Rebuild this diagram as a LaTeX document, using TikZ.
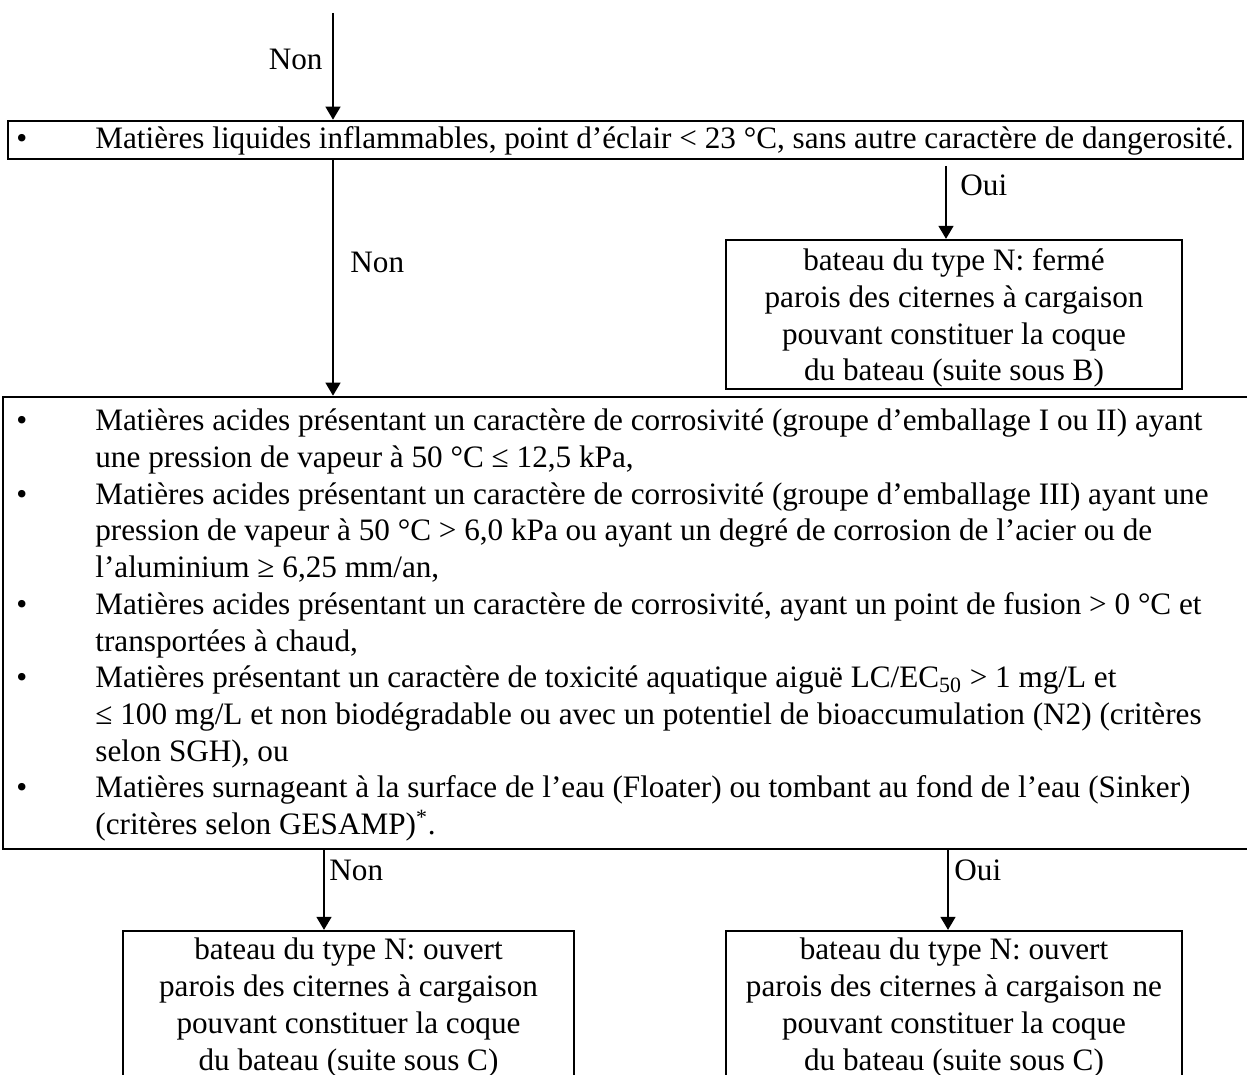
\documentclass[tikz,border=0pt]{standalone}
\usepackage{fontspec}
\setmainfont{Liberation Serif}
\usetikzlibrary{arrows.meta}
\newcommand\bodyfont{\fontsize{15.6pt}{18.35pt}\selectfont}
\newcommand\topstrut{\rule{0pt}{14.5pt}}
\tikzset{
  bigbox/.style={draw, line width=1.35pt, inner sep=0pt},
  smallbox/.style={draw, line width=1.15pt, align=center, inner sep=0pt, font=\bodyfont},
  arr/.style={line width=0.75pt, -{Triangle[length=6.5pt,width=7.5pt]}},
  lbl/.style={font=\bodyfont, inner sep=0pt},
  bodytext/.style={font=\bodyfont, inner sep=0pt}
}
\begin{document}
\begin{tikzpicture}[x=0.5pt, y=-0.5pt]
\useasboundingbox (0,0) rectangle (1247,1075);

% question 1
\node[bigbox, minimum width=617.5pt, minimum height=19pt] (q1) at (625.5,140) {};
\node[bodytext, anchor=base west] (q1text) at (16,149)
  {\makebox[39.5pt][l]{\textbullet}Matières liquides inflammables, point d’éclair < 23 °C, sans autre caractère de dangerosité.};

% question 2
\node[bigbox, minimum width=623.5pt, minimum height=226pt] (q2) at (626.5,623) {};
\node[bodytext, anchor=north west] (q2text) at (16,404.8) {%
\begin{tabular}{@{}p{39.5pt}@{}l@{}}
\textbullet & Matières acides présentant un caractère de corrosivité (groupe d’emballage I ou II) ayant\\
 & une pression de vapeur à 50 °C ≤ 12,5 kPa,\\
\textbullet & Matières acides présentant un caractère de corrosivité (groupe d’emballage III) ayant une\\
 & pression de vapeur à 50 °C > 6,0 kPa ou ayant un degré de corrosion de l’acier ou de\\
 & l’aluminium ≥ 6,25 mm/an,\\
\textbullet & Matières acides présentant un caractère de corrosivité, ayant un point de fusion > 0 °C et\\
 & transportées à chaud,\\
\textbullet & Matières présentant un caractère de toxicité aquatique aiguë LC/EC\textsubscript{50} > 1 mg/L et\\
 & ≤ 100 mg/L et non biodégradable ou avec un potentiel de bioaccumulation (N2) (critères\\
 & selon SGH), ou\\
\textbullet & Matières surnageant à la surface de l’eau (Floater) ou tombant au fond de l’eau (Sinker)\\
 & (critères selon GESAMP)\textsuperscript{*}.
\end{tabular}};

% result boxes
\node[smallbox, minimum width=228pt, minimum height=74.5pt] (r1) at (954,314.5)
  {\topstrut bateau du type N: fermé\\parois des citernes à cargaison\\pouvant constituer la coque\\du bateau (suite sous B)};
\node[smallbox, minimum width=225.5pt, minimum height=76.5pt] (r2) at (348.5,1007.5)
  {bateau du type N: ouvert\\parois des citernes à cargaison\\pouvant constituer la coque\\du bateau (suite sous C)};
\node[smallbox, minimum width=228pt, minimum height=76.5pt] (r3) at (954,1007.5)
  {bateau du type N: ouvert\\parois des citernes à cargaison ne\\pouvant constituer la coque\\du bateau (suite sous C)};

% connectors
\coordinate (s0) at (333,13);
\coordinate (s1) at (946,166);
\coordinate (s2) at (324,849);
\coordinate (s3) at (948,849);
\draw[arr] (s0) -- (s0 |- q1.north);
\draw[arr] (q1.south -| s0) -- (s0 |- q2.north);
\draw[arr] (s1) -- (s1 |- r1.north);
\draw[arr] (q2.south -| s2) -- (s2 |- r2.north);
\draw[arr] (q2.south -| s3) -- (s3 |- r3.north);

% labels
\node[lbl, anchor=east] (n0) at (323,59) {Non};
\node[lbl, anchor=west] (n1) at (350,262) {Non};
\node[lbl, anchor=west] (o1) at (960,185) {Oui};
\node[lbl, anchor=west] (n2) at (329,870) {Non};
\node[lbl, anchor=west] (o2) at (954,870) {Oui};
\end{tikzpicture}
\end{document}
